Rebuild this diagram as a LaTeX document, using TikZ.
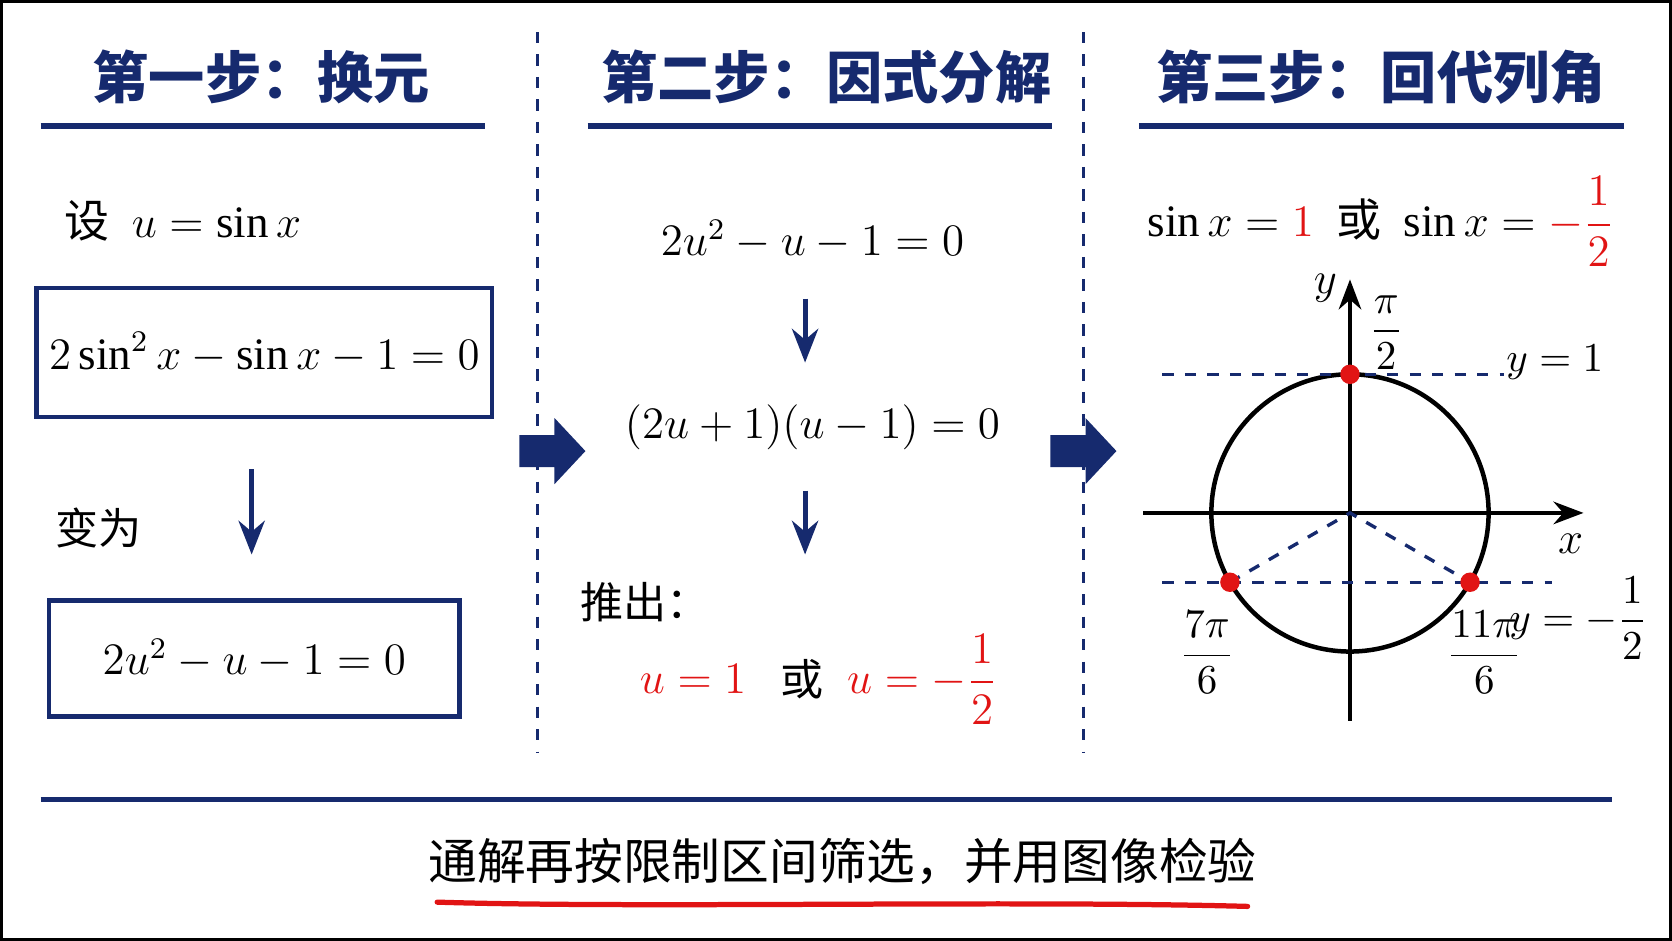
\documentclass[tikz,border=0pt]{standalone}
\usepackage{fontspec}
\usepackage{amsmath}
\setmainfont{Liberation Serif}
\newfontfamily\cjk{Noto Sans CJK SC}
\usetikzlibrary{positioning,calc,arrows.meta}
\definecolor{navy}{RGB}{22,42,110}
\definecolor{hired}{RGB}{225,20,20}
\tikzset{
  title/.style={text=navy,font=\cjk\bfseries\fontsize{15}{17}\selectfont},
  formula/.style={font=\fontsize{12}{14}\selectfont},
  cjktext/.style={font=\cjk\fontsize{11.5}{13}\selectfont},
  eqbox/.style={draw=navy,line width=1.2pt},
  downarrow/.style={draw=navy,line width=1.3pt,-{Stealth[length=9pt,width=7pt]}},
  bigarrow/.pic={\fill [navy] (0,0.15) -- (0.33,0.15) -- (0.33,0.31) -- (0.62,0) -- (0.33,-0.31) -- (0.33,-0.15) -- (0,-0.15) -- cycle;}
}
\begin{document}
\begin{tikzpicture}
\useasboundingbox (0,0) rectangle (15.68,-8.82);
\draw [line width=0.8pt] (0.01,-0.01) rectangle (15.67,-8.81);
% titles
\path
    (2.45,-0.72) node [title] (t1) {第一步：换元}
    (7.75,-0.72) node [title] (t2) {第二步：因式分解}
    (12.95,-0.72) node [title] (t3) {第三步：回代列角};
\draw [navy,line width=1.5pt] (0.38,-1.18) -- (4.55,-1.18);
\draw [navy,line width=1.5pt] (5.51,-1.18) -- (9.87,-1.18);
\draw [navy,line width=1.5pt] (10.68,-1.18) -- (15.23,-1.18);
\draw [navy,dashed,line width=0.7pt] (5.04,-0.3) -- (5.04,-7.05);
\draw [navy,dashed,line width=0.7pt] (10.16,-0.3) -- (10.16,-7.05);
% step one
\node [formula,anchor=west] (set) at (0.48,-2.07) {{\cjk 设}\ \ $u=\sin x$};
\node [eqbox,formula,minimum width=4.2cm,minimum height=1.21cm] (eq1) at (2.48,-3.305) {$2\sin^2 x-\sin x-1=0$};
\node [cjktext] (become) at (0.92,-4.95) {变为};
\node [eqbox,formula,minimum width=3.85cm,minimum height=1.09cm] (eq2) at (2.385,-6.175) {$2u^2-u-1=0$};
\draw [downarrow] (2.36,-4.4) -- (2.36,-5.2);
% step two
\path [formula]
    (7.62,-2.25) node (q1) {$2u^2-u-1=0$}
    (7.62,-4.01) node (q2) {$(2u+1)(u-1)=0$};
\draw [downarrow] (7.55,-2.8) -- (7.55,-3.4);
\draw [downarrow] (7.55,-4.6) -- (7.55,-5.2);
\node [cjktext] (then) at (6.05,-5.65) {推出：};
\node [formula,text=hired] (r1) at (6.5,-6.37) {$u=1$};
\node [cjktext] (or1) at (7.52,-6.37) {或};
\node [formula,text=hired] (r2) at (8.65,-6.37) {$u=-\dfrac{1}{2}$};
% big arrows
\pic at (4.87,-4.23) {bigarrow};
\pic at (9.85,-4.23) {bigarrow};
% step three
\node [formula] (s3) at (12.95,-2.08) {$\sin x={\color{hired}1}$\ \ {\cjk 或}\ \ $\sin x={\color{hired}-\dfrac{1}{2}}$};
\coordinate (O) at (12.66,-4.81);
\draw [line width=1.2pt] (O) circle (1.3);
\draw [line width=1.1pt,-{Stealth[length=8pt]}] (10.72,-4.81) -- (14.85,-4.81);
\draw [line width=1.1pt,-{Stealth[length=8pt]}] (12.66,-6.76) -- (12.66,-2.62);
\node [formula] (xl) at (14.73,-5.1) {$x$};
\node [formula] (yl) at (12.43,-2.7) {$y$};
\coordinate (P1) at ($(O)+(90:1.3)$);
\coordinate (P2) at ($(O)+(210:1.3)$);
\coordinate (P3) at ($(O)+(330:1.3)$);
\draw [navy,dashed,line width=0.9pt] (10.9,-3.51) -- (14.1,-3.51);
\draw [navy,dashed,line width=0.9pt] (10.9,-5.46) -- (14.55,-5.46);
\draw [navy,dashed,line width=0.9pt] (P2) -- (O) -- (P3);
\foreach \p in {P1,P2,P3} \fill [hired] (\p) circle (2.6pt);
\path [font=\fontsize{11}{13}\selectfont]
    (13.0,-3.12) node (lpi2) {$\dfrac{\pi}{2}$}
    (14.58,-3.4) node (ly1) {$y=1$}
    (11.32,-6.12) node (l7) {$\dfrac{7\pi}{6}$}
    (13.92,-6.12) node (l11) {$\dfrac{11\pi}{6}$}
    (14.8,-5.8) node (ly2) {$y=-\dfrac{1}{2}$};
% bottom
\draw [navy,line width=1.3pt] (0.38,-7.5) -- (15.12,-7.5);
\node [font=\cjk\fontsize{13}{15}\selectfont] (sum) at (7.9,-8.08) {通解再按限制区间筛选，并用图像检验};
\draw [hired,line width=1.4pt,line cap=round] (4.1,-8.46) .. controls (6,-8.52) and (9.5,-8.44) .. (11.7,-8.5);
\end{tikzpicture}
\end{document}
